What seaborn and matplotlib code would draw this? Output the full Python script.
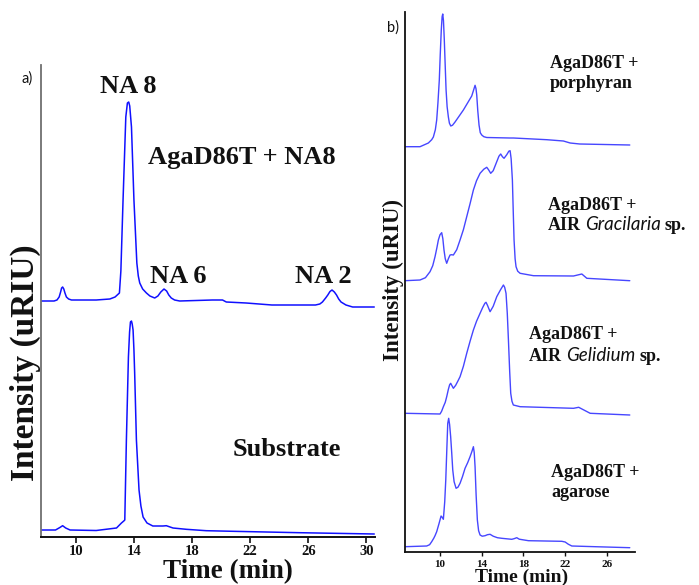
import matplotlib
matplotlib.use("Agg")
import matplotlib.pyplot as plt
import pandas as pd
import seaborn as sns

# ---------------- panel a: AgaD86T acting on neoagarooctaose ----------------
time_na8 = [7.6, 8.5, 8.7, 8.85, 8.95, 9.02, 9.09, 9.17, 9.25, 9.35, 9.5, 9.7, 11.4, 12.34,
            12.7, 13.0, 13.1, 13.25, 13.44, 13.55, 13.64, 13.71, 13.83, 14.0, 14.2, 14.3,
            14.4, 14.6, 14.86, 15.1, 15.43, 15.65, 15.85, 16.07, 16.25, 16.4, 16.57, 16.8,
            17.15, 19.4, 20.1, 20.36, 21.73, 23.5, 26.5, 26.8, 26.98, 27.2, 27.35, 27.5,
            27.64, 27.8, 27.95, 28.1, 28.26, 28.6, 29.06, 30.55]
int_na8 = [0, 0, 1, 4, 9, 13, 14, 12, 8, 4, 2, 1, 1, 2,
           4, 8, 30, 101, 184, 198, 199, 195, 174, 101, 38, 25,
           18, 12, 8, 5, 3, 5, 9, 12, 10, 6, 3, 1,
           0, 1, 1, -1, -2, -4, -4, -3, -1, 3, 6, 9.5,
           11, 9, 6, 2, -1, -4, -6, -6]

time_sub = [7.6, 8.6, 8.9, 9.09, 9.3, 9.6, 11.4, 12.8, 13.14, 13.3, 13.37, 13.48, 13.62,
            13.7, 13.76, 13.83, 13.88, 13.94, 14.0, 14.05, 14.17, 14.35, 14.48, 14.63,
            14.9, 15.3, 16.0, 16.23, 16.69, 17.6, 18.98, 20.8, 25.4, 30.55]
int_sub = [0, 0, 2.5, 4.3, 2, 0, -0.5, 2, 7, 9, 10, 90, 173,
           198, 208, 209, 206, 200, 180, 157, 90, 40, 24, 13,
           7, 4, 4, 4.3, 2, 0.7, -0.7, -1.3, -2.7, -4]

# ---------------- panel b: AgaD86T on different polysaccharides ----------------
time_porph = [6.64, 8.08, 8.88, 9.2, 9.36, 9.55, 9.68, 9.8, 9.93, 10.02, 10.12, 10.2, 10.26,
              10.33, 10.41, 10.5, 10.58, 10.68, 10.8, 10.9, 11.03, 11.2, 11.44, 12.24,
              13.04, 13.2, 13.36, 13.45, 13.52, 13.62, 13.74, 13.86, 14.0, 14.2, 14.48,
              16.7, 17.04, 20.24, 21.83, 22.48, 23.4, 28.2]
int_porph = [0, 0, 3.7, 7, 9.7, 17, 26.7, 44, 66.7, 92, 116.7, 130, 132.7,
             126, 106.7, 80, 56.7, 40, 29.7, 23.5, 20.7, 21.5, 24.7, 36.7,
             50.7, 56, 61.4, 58, 51.7, 36, 21.7, 14, 11.7, 10, 9.2,
             8.7, 8.7, 7, 5.7, 3.7, 2.7, 1.7]

time_grac = [6.64, 8.08, 8.6, 9.04, 9.3, 9.52, 9.7, 9.84, 10.0, 10.16, 10.27, 10.38, 10.5,
             10.64, 10.8, 10.96, 11.1, 11.28, 11.6, 11.92, 12.24, 12.56, 12.88, 13.2, 13.5,
             13.84, 14.2, 14.48, 14.65, 14.86, 15.1, 15.44, 15.65, 15.82, 15.98, 16.14,
             16.4, 16.6, 16.72, 16.82, 16.94, 17.02, 17.1, 17.2, 17.29, 17.45, 17.68,
             18.96, 22.8, 23.6, 24.08, 28.2]
int_grac = [0, 0.7, 3, 9, 15, 24, 33, 40.7, 46, 48, 42, 30.7, 22,
            17.4, 22, 25.7, 26, 25.7, 31, 40.7, 51, 64, 77, 90.7, 100,
            107.4, 111.5, 113.4, 111, 107.4, 110, 119, 124.5, 126.7, 124, 122.4,
            126, 129.5, 130, 122, 100.7, 70, 40.7, 22, 14, 9.5, 7.4,
            5, 4.7, 6.7, 2.4, 0]

time_geli = [6.64, 10.0, 10.15, 10.32, 10.5, 10.64, 10.8, 10.92, 11.02, 11.15, 11.28, 11.5,
             11.7, 11.92, 12.24, 12.56, 12.88, 13.2, 13.5, 13.84, 14.1, 14.3, 14.41, 14.55,
             14.8, 15.1, 15.44, 15.8, 16.08, 16.2, 16.33, 16.45, 16.56, 16.68, 16.78, 16.9,
             17.03, 17.68, 22.8, 23.3, 24.4, 28.2]
int_geli = [0, -0.7, 2, 6.6, 11, 16.6, 24, 28.5, 30, 27.5, 25, 28,
            32, 36.6, 47, 60, 72, 83.3, 92, 100, 106, 110, 111, 108,
            101.6, 107, 116.6, 123.5, 128.3, 126, 120, 100, 73.3, 42, 20, 12,
            8.3, 6.6, 5, 6, 0, -1.7]

time_agar = [6.64, 8.72, 9.0, 9.2, 9.4, 9.52, 9.68, 9.9, 10.1, 10.2, 10.32, 10.45, 10.55,
             10.65, 10.74, 10.83, 10.92, 11.02, 11.12, 11.22, 11.35, 11.54, 11.72, 11.92,
             12.15, 12.4, 12.65, 12.88, 13.05, 13.2, 13.28, 13.36, 13.46, 13.58, 13.7,
             13.84, 14.05, 14.32, 14.55, 14.8, 15.1, 15.5, 15.92, 16.88, 17.1, 17.36, 17.6,
             18.48, 21.68, 22.0, 22.3, 22.64, 24.88, 28.2]
int_agar = [0, 0.7, 2, 5, 8.5, 11, 15, 23, 30.7, 29.5, 27.4, 45, 66.7,
            97, 123.4, 128.4, 122, 110, 94, 76.7, 65, 58.4, 59.5, 63.4,
            70, 78.4, 84, 90, 95, 100, 94, 80, 52, 26.7, 16,
            11.7, 10.5, 11, 12, 12.4, 10.5, 9, 8.4, 7.4, 8, 9, 7.5,
            6, 5.4, 4.7, 2.5, 0.7, 0, -1]

ticks_a = [10, 14, 18, 22, 26, 30]
ticks_b = [10, 14, 18, 22, 26]

W, H = 699, 585
sns.set_theme(style="ticks")
plt.rcParams["font.family"] = ["Liberation Serif", "DejaVu Serif"]
plt.rcParams["font.weight"] = "bold"
plt.rcParams["lines.solid_joinstyle"] = "round"

fig = plt.figure(figsize=(W / 100, H / 100), dpi=100)


def axes_px(left, top, right, bottom):
    return fig.add_axes([left / W, 1 - bottom / H, (right - left) / W, (bottom - top) / H])


def fpos(x, y):
    return x / W, 1 - y / H


def stack(name, t, v, offset):
    return pd.DataFrame({"trace": name, "time": t, "signal": [s + offset for s in v]})


# ---------------- panel a ----------------
ax_a = axes_px(41, 65, 375, 537)
df_a = pd.concat([stack("Substrate", time_sub, int_sub, 7),
                  stack("AgaD86T + NA8", time_na8, int_na8, 236)])
sns.lineplot(data=df_a, x="time", y="signal", hue="trace", units="trace",
             estimator=None, sort=False, palette=["#1010ff", "#1010ff"],
             linewidth=1.1, legend=False, ax=ax_a)
ax_a.set_xlim(7.6, 30.6)
ax_a.set_ylim(0, 472)
ax_a.set_xticks(ticks_a)
ax_a.set_xticklabels([str(t) for t in ticks_a], fontsize=10.5, fontweight="bold")
ax_a.set_yticks([])
ax_a.tick_params(axis="x", direction="out", length=4, width=1.2, pad=1.5, colors="#111111")
for side in ("top", "right"):
    ax_a.spines[side].set_visible(False)
ax_a.spines["left"].set_color("#707070")
ax_a.spines["left"].set_linewidth(1.3)
ax_a.spines["bottom"].set_color("#111111")
ax_a.spines["bottom"].set_linewidth(1.4)
ax_a.set_xlabel("Time (min)", fontsize=19.5, fontweight="bold", color="#111111")
ax_a.xaxis.set_label_coords((228 - 41) / 334, -(578 - 537) / 472)
ax_a.xaxis.label.set_va("baseline")
ax_a.set_ylabel("Intensity (uRIU)", fontsize=24, fontweight="bold", color="#111111",
                va="center", rotation_mode="default")
ax_a.yaxis.set_label_coords((25 - 41) / 334, (537 - 363) / 472)

txt = dict(fontsize=19, fontweight="bold", color="#111111", va="baseline")
fig.text(*fpos(128, 93), "NA 8", ha="center", **txt)
fig.text(*fpos(148, 164), "AgaD86T + NA8", ha="left", **txt)
fig.text(*fpos(150, 283), "NA 6", ha="left", **txt)
fig.text(*fpos(295, 283), "NA 2", ha="left", **txt)
fig.text(*fpos(233, 456), "Substrate", ha="left", **txt)
fig.text(*fpos(22, 83), "a)", ha="left", va="baseline", fontsize=10.5,
         fontweight="normal", family=["Lato", "DejaVu Sans"], color="#111111")

# ---------------- panel b ----------------
ax_b = axes_px(405, 12, 635, 552)
df_b = pd.concat([stack("agarose", time_agar, int_agar, 5.3),
                  stack("Gelidium", time_geli, int_geli, 138.7),
                  stack("Gracilaria", time_grac, int_grac, 271.3),
                  stack("porphyran", time_porph, int_porph, 405.3)])
sns.lineplot(data=df_b, x="time", y="signal", hue="trace", units="trace",
             estimator=None, sort=False, palette=["#4646ff"] * 4,
             linewidth=1.0, legend=False, ax=ax_b)
ax_b.set_xlim(6.64, 28.7)
ax_b.set_ylim(0, 540)
ax_b.set_xticks(ticks_b)
ax_b.set_xticklabels([str(t) for t in ticks_b], fontsize=8, fontweight="bold")
ax_b.set_yticks([])
ax_b.tick_params(axis="x", direction="out", length=3, width=1.0, pad=3, colors="#111111")
for side in ("top", "right"):
    ax_b.spines[side].set_visible(False)
for side in ("left", "bottom"):
    ax_b.spines[side].set_color("#111111")
    ax_b.spines[side].set_linewidth(1.3)
ax_b.set_xlabel("Time (min)", fontsize=14, fontweight="bold", color="#111111")
ax_b.xaxis.set_label_coords((522 - 405) / 230, -(582 - 552) / 540)
ax_b.xaxis.label.set_va("baseline")
ax_b.set_ylabel("Intensity (uRIU)", fontsize=16.5, fontweight="bold", color="#111111",
                va="center", rotation_mode="default")
ax_b.yaxis.set_label_coords((393 - 405) / 230, (552 - 280) / 540)

fig.text(*fpos(387, 32), "b)", ha="left", va="baseline", fontsize=10.5,
         fontweight="normal", family=["Lato", "DejaVu Sans"], color="#111111")

renderer = fig.canvas.get_renderer()
serif_b = dict(fontweight="bold", family=["Liberation Serif", "DejaVu Serif"], fontsize=13)
sans_i = dict(fontweight="normal", style="italic", family=["Lato", "DejaVu Sans"],
              fontsize=13.5)


def rich_line(x, y, parts):
    cur = x
    for s, kw, gap in parts:
        t = fig.text(*fpos(cur, y), s, ha="left", va="baseline", color="#111111", **kw)
        cur += t.get_window_extent(renderer).width + gap


rich_line(550, 68, [("AgaD86T +", serif_b, 0)])
rich_line(550, 88, [("porphyran", serif_b, 0)])
rich_line(548, 210, [("AgaD86T +", serif_b, 0)])
rich_line(548, 230, [("AIR", serif_b, 4), ("Gracilaria", sans_i, 4), ("sp.", serif_b, 0)])
rich_line(529, 339, [("AgaD86T +", serif_b, 0)])
rich_line(529, 361, [("AIR", serif_b, 4), ("Gelidium", sans_i, 4), ("sp.", serif_b, 0)])
rich_line(551, 477, [("AgaD86T +", serif_b, 0)])
rich_line(551, 497, [("agarose", serif_b, 0)])

fig.savefig("out.png", dpi=100)
